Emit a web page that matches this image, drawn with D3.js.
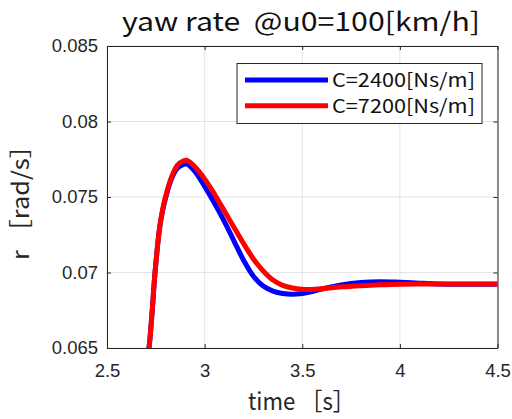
<!DOCTYPE html>
<html>
<head>
<meta charset="utf-8">
<script src="https://cdn.jsdelivr.net/npm/d3@7"></script>
<style>
  html, body { margin: 0; padding: 0; background: #fff; }
  svg { display: block; }
</style>
</head>
<body>
<svg id="chart" width="512" height="419"></svg>
<script>
// Yaw rate response for two damping coefficients
const timeC2400 = [2.70, 2.715, 2.73, 2.746, 2.77, 2.79, 2.81, 2.83, 2.86, 2.89, 2.91, 2.95, 3.00,
  3.05, 3.10, 3.15, 3.20, 3.25, 3.30, 3.35, 3.40, 3.45, 3.50, 3.55, 3.60,
  3.70, 3.80, 3.90, 4.00, 4.10, 4.20, 4.30, 4.40, 4.50];
const rC2400 = [0.0638, 0.0650, 0.0672, 0.0700, 0.0730, 0.0744, 0.0754, 0.0762, 0.0769, 0.07715, 0.07718, 0.0767, 0.0757,
  0.0746, 0.0734, 0.0721, 0.0708, 0.06975, 0.0691, 0.06877, 0.06861, 0.06856, 0.06861, 0.06874, 0.06891,
  0.06918, 0.06934, 0.06939, 0.06935, 0.06929, 0.06924, 0.06922, 0.06922, 0.06923];

const timeC7200 = [2.70, 2.715, 2.73, 2.746, 2.77, 2.79, 2.81, 2.83, 2.86, 2.89, 2.91, 2.95, 3.00,
  3.05, 3.10, 3.15, 3.20, 3.25, 3.30, 3.35, 3.40, 3.45, 3.50, 3.55, 3.60,
  3.70, 3.80, 3.90, 4.00, 4.10, 4.20, 4.30, 4.40, 4.50];
const rC7200 = [0.0638, 0.0650, 0.0672, 0.0700, 0.0730, 0.0745, 0.0755, 0.0763, 0.0771, 0.07738, 0.07742, 0.0770, 0.0762,
  0.0752, 0.0741, 0.0730, 0.0719, 0.0709, 0.0701, 0.06950, 0.06915, 0.06897, 0.06889, 0.06888, 0.06893,
  0.06905, 0.06913, 0.06919, 0.06923, 0.06924, 0.06924, 0.06924, 0.06924, 0.06924];

const seriesNames = ["C=2400[Ns/m]", "C=7200[Ns/m]"];
const seriesColors = ["#0000ff", "#ff0000"];

const xTicks = [2.5, 3, 3.5, 4, 4.5];
const yTicks = [0.065, 0.07, 0.075, 0.08, 0.085];

const titleText = "yaw rate\u00a0\u00a0@u0=100[km/h]";
const xLabelText = "time\u00a0［s］";
const yLabelText = "r\u00a0［rad/s］";

const svg = d3.select("#chart");
const plotLeft = 107, plotRight = 497.5, plotTop = 46, plotBottom = 348;

const x = d3.scaleLinear().domain([2.5, 4.5]).range([plotLeft, plotRight]);
const y = d3.scaleLinear().domain([0.065, 0.085]).range([plotBottom, plotTop]);

const axisColor = "#262626";
const gridColor = "#e3e3e3";
const tickFont = "'Liberation Sans', Arial, sans-serif";
const labelFont = "'Noto Sans CJK JP', 'Noto Sans', sans-serif";

// grid
const grid = svg.append("g");
grid.selectAll("line.gx").data(xTicks).join("line")
  .attr("x1", d => x(d)).attr("x2", d => x(d))
  .attr("y1", plotTop).attr("y2", plotBottom)
  .attr("stroke", gridColor).attr("stroke-width", 1);
grid.selectAll("line.gy").data(yTicks).join("line")
  .attr("x1", plotLeft).attr("x2", plotRight)
  .attr("y1", d => y(d)).attr("y2", d => y(d))
  .attr("stroke", gridColor).attr("stroke-width", 1);

// data lines, clipped to the axes box
svg.append("clipPath").attr("id", "plotclip")
  .append("rect").attr("x", plotLeft).attr("y", plotTop)
  .attr("width", plotRight - plotLeft).attr("height", plotBottom - plotTop);

const plot = svg.append("g").attr("clip-path", "url(#plotclip)");
[[timeC2400, rC2400], [timeC7200, rC7200]].forEach(([ts, vals], k) => {
  const line = d3.line().curve(d3.curveCatmullRom.alpha(0.5))
    .x((d, i) => x(ts[i])).y(d => y(d));
  plot.append("path").datum(vals)
    .attr("d", line)
    .attr("fill", "none")
    .attr("stroke", seriesColors[k])
    .attr("stroke-width", 5)
    .attr("stroke-linejoin", "round");
});

// axes (ticks pointing inward, box around)
const fmt = d => String(+d.toFixed(3));
svg.append("g").attr("transform", `translate(0,${plotBottom})`)
  .call(d3.axisBottom(x).tickValues(xTicks).tickSizeInner(-4).tickSizeOuter(0).tickPadding(16).tickFormat(fmt))
  .call(g => g.selectAll("text").attr("font-size", 18.5).attr("font-family", tickFont).attr("fill", axisColor))
  .call(g => g.selectAll("line, path").attr("stroke", axisColor));
svg.append("g").attr("transform", `translate(${plotLeft},0)`)
  .call(d3.axisLeft(y).tickValues(yTicks).tickSizeInner(-4).tickSizeOuter(0).tickPadding(9).tickFormat(fmt))
  .call(g => g.selectAll("text").attr("font-size", 18.5).attr("font-family", tickFont).attr("fill", axisColor))
  .call(g => g.selectAll("line, path").attr("stroke", axisColor));
svg.append("g").attr("transform", `translate(0,${plotTop})`)
  .call(d3.axisTop(x).tickValues(xTicks).tickSizeInner(-4).tickSizeOuter(0).tickFormat(""))
  .call(g => g.selectAll("line, path").attr("stroke", axisColor));
svg.append("g").attr("transform", `translate(${plotRight},0)`)
  .call(d3.axisRight(y).tickValues(yTicks).tickSizeInner(-4).tickSizeOuter(0).tickFormat(""))
  .call(g => g.selectAll("line, path").attr("stroke", axisColor));

// title and axis labels
svg.append("text").attr("x", 301).attr("y", 31)
  .attr("text-anchor", "middle").attr("font-size", 26).attr("font-family", labelFont)
  .attr("textLength", 358).attr("lengthAdjust", "spacingAndGlyphs")
  .attr("fill", "#111").text(titleText);
svg.append("text").attr("x", 301.5).attr("y", 410)
  .attr("text-anchor", "middle").attr("font-size", 24).attr("font-family", labelFont)
  .attr("textLength", 107).attr("lengthAdjust", "spacingAndGlyphs")
  .attr("fill", "#262626").text(xLabelText);
svg.append("text")
  .attr("transform", `translate(29,196.5) rotate(-90)`)
  .attr("text-anchor", "middle").attr("font-size", 23).attr("font-family", labelFont)
  .attr("textLength", 127).attr("lengthAdjust", "spacingAndGlyphs")
  .attr("fill", "#262626").text(yLabelText);

// legend
const lg = svg.append("g");
lg.append("rect").attr("x", 237).attr("y", 63.5).attr("width", 245).attr("height", 60)
  .attr("fill", "#fff").attr("stroke", axisColor).attr("stroke-width", 1);
seriesNames.forEach((name, k) => {
  const ly = 80 + k * 25.7;
  lg.append("line").attr("x1", 245).attr("x2", 328).attr("y1", ly).attr("y2", ly)
    .attr("stroke", seriesColors[k]).attr("stroke-width", 5);
  lg.append("text").attr("x", 332).attr("y", ly).attr("dy", "0.36em")
    .attr("font-size", 19).attr("font-family", labelFont).attr("fill", "#111")
    .attr("textLength", 143).attr("lengthAdjust", "spacingAndGlyphs")
    .text(name);
});
</script>
</body>
</html>
